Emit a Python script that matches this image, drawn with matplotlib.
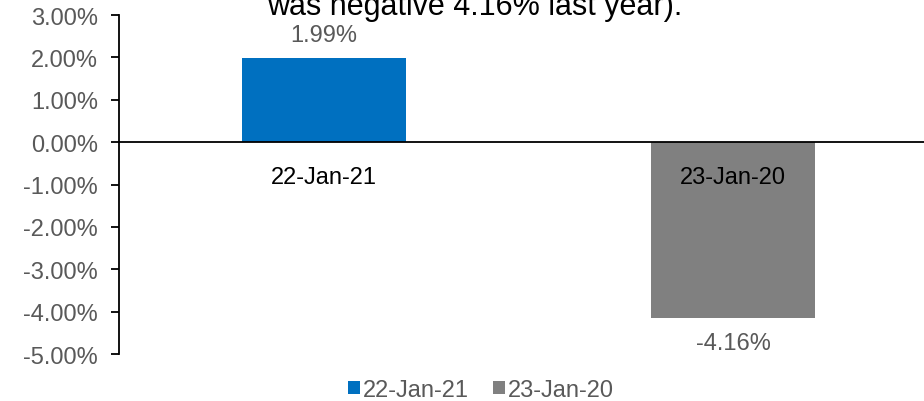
import matplotlib
matplotlib.use("Agg")
import matplotlib.pyplot as plt
from matplotlib.ticker import FuncFormatter
from matplotlib.patches import Patch
from matplotlib.transforms import offset_copy

# data
dates = ["22-Jan-21", "23-Jan-20"]
returns = [1.99, -4.16]
bar_colors = ["#0070C0", "#808080"]
title_line = "was negative 4.16% last year)."
y_ticks = [3, 2, 1, 0, -1, -2, -3, -4, -5]

plt.rcParams["font.family"] = ["Liberation Sans", "DejaVu Sans"]
GREY_TXT = "#595959"
FS = 17

fig = plt.figure(figsize=(9.24, 4.02), dpi=100)
ax = fig.add_axes([119 / 924, 47 / 402, 1 - 119 / 924, (355 - 16) / 402])

xpos = list(range(len(dates)))
bars = ax.bar(xpos, returns, width=0.4, color=bar_colors, zorder=1)

ax.set_xlim(-0.501, 1.467)
ax.set_ylim(-5, 3)
ax.set_yticks(y_ticks)
ax.yaxis.set_major_formatter(FuncFormatter(lambda v, p: "{:.2f}%".format(v)))
ax.tick_params(axis="y", direction="out", length=6, width=1.3, colors="black",
               labelcolor=GREY_TXT, labelsize=FS, pad=9)

# category axis sits on the zero line
ax.spines["bottom"].set_position(("data", 0))
ax.spines["bottom"].set_linewidth(1.3)
ax.spines["left"].set_linewidth(1.3)
ax.spines["top"].set_visible(False)
ax.spines["right"].set_visible(False)
ax.set_xticks(xpos)
ax.set_xticklabels(dates)
ax.tick_params(axis="x", length=0, labelsize=FS, labelcolor="black", pad=17)

# value labels
for x, v in zip(xpos, returns):
    if v >= 0:
        tr = offset_copy(ax.transData, fig=fig, x=0, y=17, units="dots")
        ax.text(x, v, "{:.2f}%".format(v), transform=tr, ha="center", va="baseline",
                fontsize=FS, color=GREY_TXT)
    else:
        tr = offset_copy(ax.transData, fig=fig, x=0, y=-14, units="dots")
        ax.text(x, v, "{:.2f}%".format(v), transform=tr, ha="center", va="top",
                fontsize=FS, color=GREY_TXT)

# title (top line is cut off in the source image)
fig.text(475 / 924, 1 - 15 / 402, title_line, ha="center", va="baseline",
         fontsize=22, color="black")

handles = [Patch(facecolor=c, edgecolor="none") for c in bar_colors]
fig.legend(handles, dates, loc="center", bbox_to_anchor=(481 / 924, 1 - 391 / 402),
           ncol=2, frameon=False, fontsize=FS, labelcolor=GREY_TXT,
           handlelength=0.5, handleheight=0.5, handletextpad=0.15,
           columnspacing=1.0, borderpad=0)

fig.savefig("out.png", dpi=100)
